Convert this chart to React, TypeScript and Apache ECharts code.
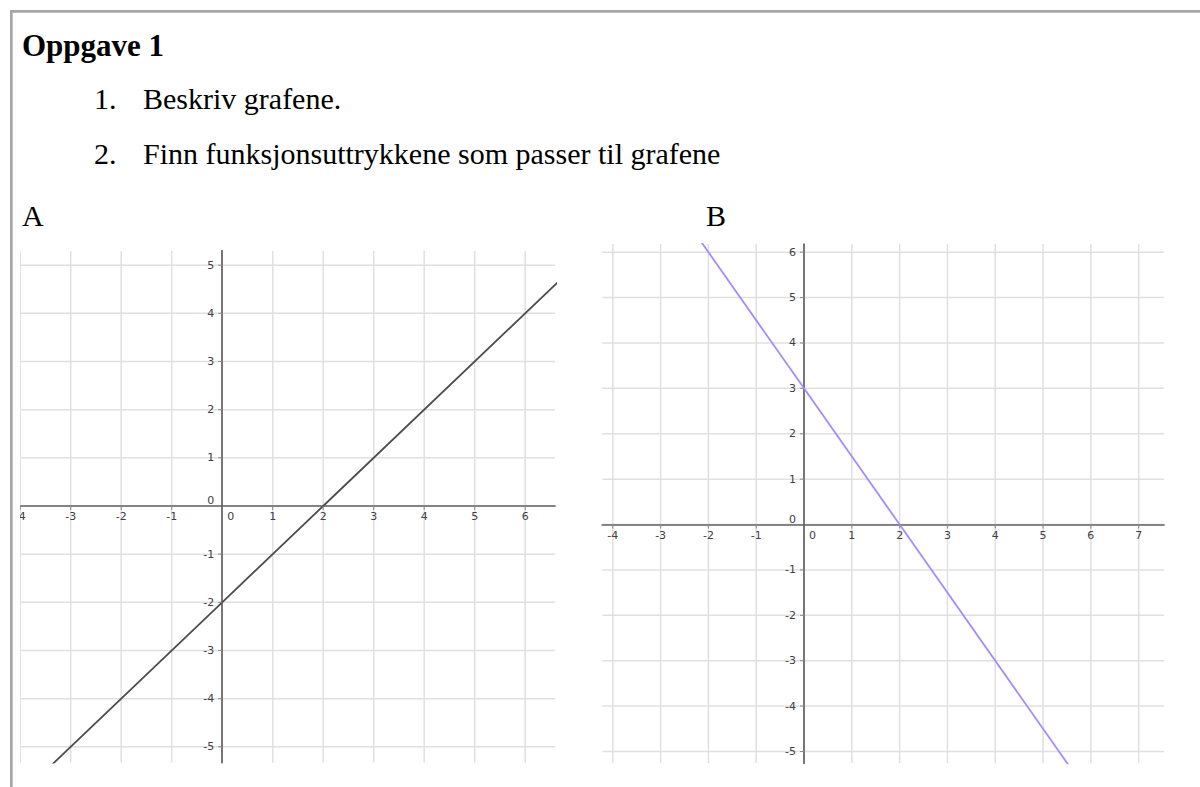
import { useEffect, useRef } from "react";
import * as echarts from "echarts";

// Page texts
const headingText = "Oppgave 1";
const taskNumbers = ["1.", "2."];
const taskItems = ["Beskriv grafene.", "Finn funksjonsuttrykkene som passer til grafene"];
const graphNames = ["A", "B"];

// Graph A: straight line through (0,-2) and (2,0)
const aXTicks = [-4, -3, -2, -1, 0, 1, 2, 3, 4, 5, 6];
const aYTicks = [-5, -4, -3, -2, -1, 0, 1, 2, 3, 4, 5];
const aLine = [[-4, -6], [0, -2], [2, 0], [7, 5]];

// Graph B: straight line through (0,3) and (2,0)
const bXTicks = [-4, -3, -2, -1, 0, 1, 2, 3, 4, 5, 6, 7];
const bYTicks = [-5, -4, -3, -2, -1, 0, 1, 2, 3, 4, 5, 6];
const bLine = [[-3, 7.5], [0, 3], [2, 0], [6, -6]];

const GRID_COLOR = "#e0e0e0";
const AXIS_COLOR = "#626262";
const TICK_COLOR = "#8a8a8a";
const LABEL_COLOR = "#404040";
const LABEL_FONT = '11px "DejaVu Sans"';
const SERIF = '"Liberation Serif", "Times New Roman", serif';

function graphSeries(idx: number, xTicks: number[], yTicks: number[], line: number[][], lineColor: string) {
  const axes = { xAxisIndex: idx, yAxisIndex: idx };
  return [
    {
      type: "custom",
      ...axes,
      z: 1,
      silent: true,
      clip: true,
      data: xTicks.map((v) => [v, 0]),
      renderItem: (params: any, api: any) => {
        const cs = params.coordSys;
        const x = api.coord([api.value(0), 0])[0];
        return {
          type: "line",
          shape: { x1: x, y1: cs.y, x2: x, y2: cs.y + cs.height },
          style: { stroke: GRID_COLOR, lineWidth: 1.5 },
        };
      },
    },
    {
      type: "custom",
      ...axes,
      z: 1,
      silent: true,
      clip: true,
      data: yTicks.map((v) => [0, v]),
      renderItem: (params: any, api: any) => {
        const cs = params.coordSys;
        const y = api.coord([0, api.value(1)])[1];
        return {
          type: "line",
          shape: { x1: cs.x, y1: y, x2: cs.x + cs.width, y2: y },
          style: { stroke: GRID_COLOR, lineWidth: 1.5 },
        };
      },
    },
    {
      type: "line",
      ...axes,
      z: 4,
      silent: true,
      clip: true,
      symbol: "none",
      data: line,
      lineStyle: { color: lineColor, width: 1.8 },
    },
    {
      type: "custom",
      ...axes,
      z: 5,
      silent: true,
      clip: true,
      data: xTicks.map((v) => [v, 0]),
      renderItem: (params: any, api: any) => {
        const v = api.value(0);
        const [px, py] = api.coord([v, 0]);
        const children: any[] = [];
        if (v !== 0) {
          children.push({
            type: "line",
            shape: { x1: px, y1: py, x2: px, y2: py + 4 },
            style: { stroke: TICK_COLOR, lineWidth: 1 },
          });
        }
        children.push({
          type: "text",
          x: v === 0 ? px + 8.5 : px,
          y: py + 11,
          style: {
            text: String(v),
            font: LABEL_FONT,
            fill: LABEL_COLOR,
            align: "center",
            textAlign: "center",
            verticalAlign: "middle",
            textVerticalAlign: "middle",
          },
        });
        return { type: "group", children };
      },
    },
    {
      type: "custom",
      ...axes,
      z: 5,
      silent: true,
      clip: true,
      data: yTicks.map((v) => [0, v]),
      renderItem: (params: any, api: any) => {
        const v = api.value(1);
        const [px, py] = api.coord([0, v]);
        const children: any[] = [];
        if (v !== 0) {
          children.push({
            type: "line",
            shape: { x1: px - 4, y1: py, x2: px, y2: py },
            style: { stroke: TICK_COLOR, lineWidth: 1 },
          });
        }
        children.push({
          type: "text",
          x: px - 8,
          y: v === 0 ? py - 5.5 : py,
          style: {
            text: String(v),
            font: LABEL_FONT,
            fill: LABEL_COLOR,
            align: "right",
            textAlign: "right",
            verticalAlign: "middle",
            textVerticalAlign: "middle",
          },
        });
        return { type: "group", children };
      },
    },
  ];
}

function valueAxis(min: number, max: number) {
  return {
    type: "value",
    min,
    max,
    z: 3,
    axisLine: { show: true, onZero: true, lineStyle: { color: AXIS_COLOR, width: 1.7 } },
    axisTick: { show: false },
    axisLabel: { show: false },
    splitLine: { show: false },
  };
}

function pageText(text: string, x: number, y: number, size: number, bold = false) {
  return {
    type: "text",
    x,
    y,
    style: {
      text,
      font: `${bold ? "bold " : ""}${size}px ${SERIF}`,
      fill: "#000",
      align: "left",
      textAlign: "left",
      verticalAlign: "middle",
      textVerticalAlign: "middle",
    },
  };
}

export default function App() {
  const ref = useRef<HTMLDivElement>(null);

  useEffect(() => {
    document.body.style.margin = "0";
    if (!ref.current) return;
    const chart = echarts.init(ref.current, null, { renderer: "svg" });
    chart.setOption({
      animation: false,
      backgroundColor: "#fff",
      grid: [
        { left: 20.7, top: 250.7, width: 534.3, height: 512, containLabel: false },
        { left: 602.3, top: 244, width: 561.7, height: 519.3, containLabel: false },
      ],
      xAxis: [
        { ...valueAxis(-3.99, 6.59), gridIndex: 0 },
        { ...valueAxis(-4.22, 7.53), gridIndex: 1 },
      ],
      yAxis: [
        { ...valueAxis(-5.33, 5.3), gridIndex: 0 },
        { ...valueAxis(-5.26, 6.18), gridIndex: 1 },
      ],
      series: [
        ...graphSeries(0, aXTicks, aYTicks, aLine, "#4d4d4d"),
        ...graphSeries(1, bXTicks, bYTicks, bLine, "#a68bff"),
      ],
      graphic: [
        { type: "rect", shape: { x: 10, y: 10, width: 1190, height: 2.7 }, style: { fill: "#a6a6a6" } },
        { type: "rect", shape: { x: 10, y: 10, width: 2.7, height: 777 }, style: { fill: "#a6a6a6" } },
        pageText(headingText, 22, 45, 31, true),
        pageText(taskNumbers[0], 94, 98.5, 30),
        pageText(taskItems[0], 143, 98.5, 30),
        pageText(taskNumbers[1], 94, 153.5, 30),
        pageText(taskItems[1], 143, 153.5, 30),
        pageText(graphNames[0], 22, 215, 30),
        pageText(graphNames[1], 706, 215, 30),
      ],
    });
    return () => chart.dispose();
  }, []);

  return <div ref={ref} style={{ width: 1200, height: 787, background: "#fff" }} />;
}
